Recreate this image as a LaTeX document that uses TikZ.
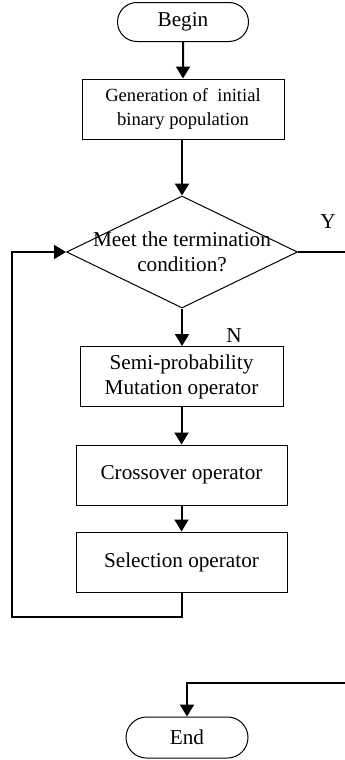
\documentclass[tikz,border=0pt]{standalone}
\usepackage{fontspec}
\setmainfont{Liberation Serif}
\usetikzlibrary{positioning,shapes.geometric,shapes.misc,arrows.meta}

\begin{document}
\begin{tikzpicture}[
                x=0.5pt, y=-0.5pt,
                every node/.append style={font=\fontsize{10.6}{12.6}\selectfont},
                terminal/.style={rounded rectangle,draw,line width=0.5pt,minimum width=65pt,minimum height=19.5pt,inner sep=1pt},
                process/.style={rectangle,draw,line width=0.5pt,minimum height=30pt,align=center,inner sep=1pt},
                decision/.style={diamond,draw,line width=0.5pt,minimum width=115.5pt,minimum height=56pt,inner sep=0pt},
                flow/.style={line width=1pt,-{Triangle[width=7pt,length=6pt]}},
                plain/.style={line width=1pt}
            ]
                \useasboundingbox (0,0) rectangle (344,760);
                \node[terminal,minimum width=67.5pt] (begin) at (183,22)  {Begin};
                \node[process,minimum width=101pt,font=\fontsize{9.3}{12}\selectfont] (init) at (183,109)
                    {Generation of\ \ initial\\binary population};
                \node[decision,label={[align=center,inner sep=0pt]center:Meet the termination\\condition?}] (cond) at (182,252) {};
                \node[process,minimum width=101.5pt] (mut) at (181.5,376.5) {Semi-probability\\Mutation operator};
                \node[process,minimum width=105.5pt] (cross) at (181.5,475) {Crossover operator};
                \node[process,minimum width=105.5pt] (sel) at (181.5,562) {Selection operator};
                \node[terminal,minimum width=63pt,minimum height=20.5pt] (stop) at (187,737.5) {End};
                \node[inner sep=0pt] (ylab) at (328,222) {Y};
                \node[inner sep=0pt] (nlab) at (234,336) {N};

                \draw[flow] (begin) -- (init);
                \draw[flow] (init.south -| cond.north) -- (cond.north);
                \draw[flow] (cond.south) -- (cond.south |- mut.north);
                \draw[flow] (mut) -- (cross);
                \draw[flow] (cross) -- (sel);
                % loop back to the test
                \coordinate (back) at (12,617);
                \draw[flow] (sel.south) |- (back) |- (cond.west);
                % exit branch, its far side lies past the page edge
                \coordinate (exit) at (352,683);
                \draw[flow] (cond.east) -| (exit) -| (stop.north);
            \end{tikzpicture}
\end{document}
